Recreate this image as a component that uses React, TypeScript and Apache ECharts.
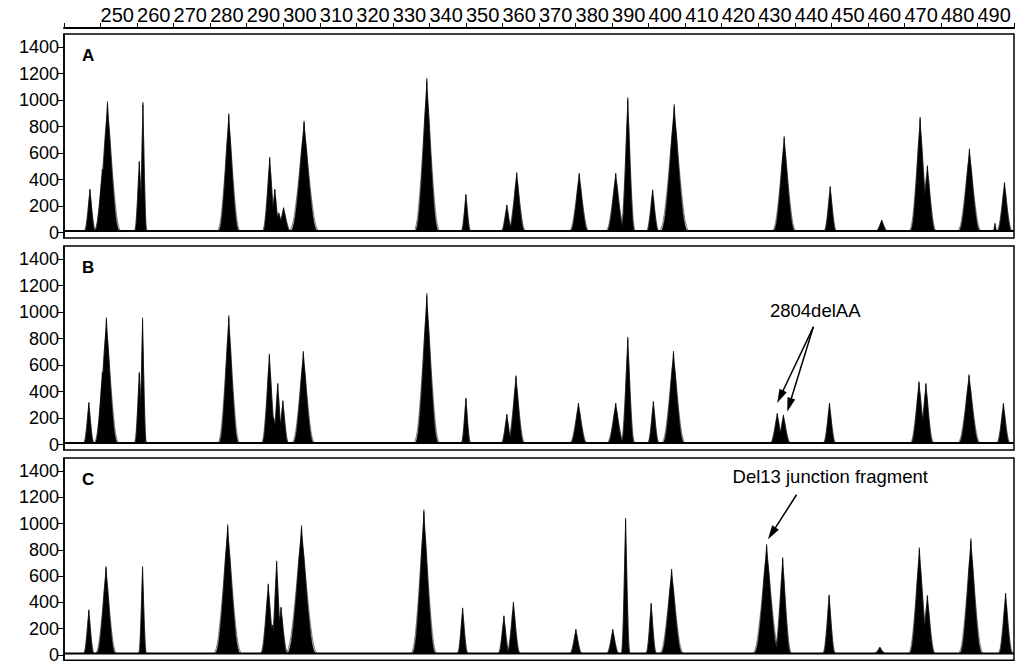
import React, { useEffect, useRef } from "react";
import * as echarts from "echarts";

// Peaks: [size (bp), height (RFU), base half-width (bp)]
const peaksA: number[][] = [
  [247.1, 330, 1.2], [250.5, 480, 1.6], [251.9, 990, 2.7], [260.6, 540, 1.0], [261.6, 985, 0.8],
  [285.1, 900, 2.3], [296.3, 570, 1.5], [297.7, 330, 1.2], [298.8, 150, 1.5], [300.1, 190, 1.5],
  [305.7, 845, 3.0], [339.3, 1165, 2.6], [350.0, 290, 1.0], [361.2, 210, 1.2], [363.9, 455, 1.8],
  [381.0, 450, 2.0], [391.0, 450, 2.0], [394.3, 1020, 1.5], [401.1, 325, 1.3], [407.0, 969, 3.0],
  [437.1, 727, 2.4], [449.7, 350, 1.3], [463.8, 95, 1.3], [474.3, 873, 2.2], [476.3, 507, 1.8],
  [487.8, 634, 2.4], [494.8, 70, 0.4], [497.4, 380, 1.6],
];
const peaksB: number[][] = [
  [246.8, 320, 1.1], [250.5, 547, 1.5], [251.6, 959, 2.5], [260.6, 547, 1.0], [261.5, 959, 0.8],
  [285.1, 976, 2.2], [296.2, 686, 1.6], [297.4, 200, 1.5], [298.5, 464, 1.2], [299.9, 333, 1.2],
  [305.5, 706, 2.3], [339.3, 1141, 2.6], [350.0, 353, 1.0], [361.2, 230, 1.2], [363.7, 522, 1.8],
  [380.8, 315, 1.8], [391.0, 315, 1.8], [394.3, 812, 1.4], [401.3, 328, 1.2], [406.8, 706, 2.4],
  [435.2, 237, 1.5], [436.9, 225, 1.5], [449.5, 315, 1.3], [474.0, 477, 1.8], [475.9, 464, 1.6],
  [487.7, 530, 2.3], [497.1, 313, 1.4],
];
const peaksC: number[][] = [
  [246.8, 345, 1.1], [251.5, 675, 2.1], [261.5, 675, 0.8], [284.8, 993, 2.8], [295.9, 542, 1.6],
  [297.0, 230, 1.5], [298.2, 717, 1.3], [299.4, 366, 1.4], [305.0, 986, 3.2], [338.5, 1106, 2.6],
  [349.1, 359, 1.1], [360.4, 299, 1.2], [363.0, 404, 1.4], [380.1, 196, 1.3], [390.2, 196, 1.3],
  [393.7, 1043, 0.9], [400.7, 396, 1.1], [406.3, 655, 2.4], [432.3, 843, 2.8], [436.7, 743, 1.8],
  [449.4, 459, 1.3], [463.3, 60, 1.2], [474.1, 818, 2.2], [476.3, 454, 1.6], [488.2, 886, 2.5],
  [497.7, 472, 1.5],
];
const panelLabels = ["A", "B", "C"];
const yTicks = [0, 200, 400, 600, 800, 1000, 1200, 1400];
const baselineLevel = 12;
const sizeRange = [240, 500];

// annotation anchors (data coords)
const delAAText = [445.6, 1013];
const delAAArrowStart = [445.1, 890];
const delAAArrowEnds = [[436.0, 362], [438.5, 300]];
const del13Text = [449.7, 1356];
const del13ArrowStart = [440.5, 1220];
const del13ArrowEnd = [433.7, 926];

// glyph profile of a peak (relative width, relative height)
const HALF_PROFILE = [
  [0, 1], [0.04, 0.93], [0.1, 0.86], [0.2, 0.76], [0.3, 0.64], [0.4, 0.52], [0.5, 0.41],
  [0.6, 0.31], [0.7, 0.22], [0.8, 0.14], [0.9, 0.08], [1.0, 0.04], [1.15, 0],
];
const PROFILE = [
  ...HALF_PROFILE.slice().reverse().map(([t, f]) => [-t, f]),
  ...HALF_PROFILE.slice(1),
];

const FONT = "'Liberation Sans', Arial, Helvetica, sans-serif";

export default function App() {
  const ref = useRef<HTMLDivElement>(null);
  useEffect(() => {
    if (!ref.current) return;
    const chart = echarts.init(ref.current, null, { renderer: "svg" });
    const tops = [34, 246, 458];
    const grids = tops.map((t) => ({
      left: 64, right: 4, top: t, height: 204,
      show: true, borderColor: "#000", borderWidth: 1.5, backgroundColor: "transparent",
    }));
    const xAxes = tops.map((_, i) => ({
      type: "value", gridIndex: i, min: sizeRange[0], max: sizeRange[1], interval: 10,
      position: "top", show: i === 0, offset: 6,
      axisLine: { show: true, onZero: false, lineStyle: { color: "#000", width: 2 } },
      axisTick: { show: true, length: 5, inside: false, lineStyle: { color: "#000", width: 1 } },
      axisLabel: {
        show: true, margin: 3, fontSize: 20, color: "#000", fontFamily: FONT, align: "left",
        formatter: (v: number) => (v >= 250 && v <= 490 ? String(v) : ""),
      },
      splitLine: { show: false },
    }));
    const yAxes = tops.map((_, i) => ({
      type: "value", gridIndex: i, min: -40, max: 1500,
      axisLine: { show: true, lineStyle: { color: "#000", width: 1.5 } },
      axisTick: { show: true, length: 6, inside: false, customValues: yTicks, lineStyle: { color: "#000" } },
      axisLabel: {
        show: true, margin: 5, fontSize: 18, color: "#000", fontFamily: FONT, customValues: yTicks,
        formatter: (v: number) => String(v),
      },
      splitLine: { show: false },
    }));
    const renderPeak = (params: any, api: any) => {
      const c = api.value(0), h = api.value(1), w = api.value(2);
      const pts = PROFILE.map(([t, f]) => api.coord([c + t * w, baselineLevel + f * (h - baselineLevel)]));
      const outline = PROFILE.map(([t, f]) => api.coord([c + t * w * 1.12, baselineLevel + f * (h - baselineLevel) * 0.98]));
      return {
        type: "group",
        children: [
          { type: "polygon", shape: { points: outline }, style: { fill: "none", stroke: "#000", lineWidth: 0.5 } },
          { type: "polygon", shape: { points: pts }, style: { fill: "#000", stroke: "#000", lineWidth: 0.6 } },
        ],
      };
    };
    const panels = [peaksA, peaksB, peaksC];
    const series: any[] = [];
    panels.forEach((pk, i) => {
      series.push({
        type: "custom", xAxisIndex: i, yAxisIndex: i, data: pk, renderItem: renderPeak,
        encode: { x: 0, y: 1 }, silent: true,
      });
      const base: any = {
        type: "line", xAxisIndex: i, yAxisIndex: i, showSymbol: false, silent: true,
        data: [[sizeRange[0], baselineLevel], [sizeRange[1], baselineLevel]],
        lineStyle: { color: "#000", width: 2 },
      };
      if (i === 1) {
        base.markLine = {
          silent: true, symbol: ["none", "triangle"], symbolSize: [8, 14],
          lineStyle: { color: "#000", width: 1.5, type: "solid" }, label: { show: false },
          data: delAAArrowEnds.map((e) => [{ coord: delAAArrowStart }, { coord: e }]),
        };
        base.markPoint = {
          silent: true, symbol: "rect", symbolSize: 1, itemStyle: { color: "rgba(0,0,0,0)" },
          label: { show: true, position: "inside", color: "#000", fontSize: 18.5, fontFamily: FONT, formatter: "2804delAA" },
          data: [{ coord: delAAText }],
        };
      }
      if (i === 2) {
        base.markLine = {
          silent: true, symbol: ["none", "triangle"], symbolSize: [8, 14],
          lineStyle: { color: "#000", width: 1.5, type: "solid" }, label: { show: false },
          data: [[{ coord: del13ArrowStart }, { coord: del13ArrowEnd }]],
        };
        base.markPoint = {
          silent: true, symbol: "rect", symbolSize: 1, itemStyle: { color: "rgba(0,0,0,0)" },
          label: { show: true, position: "inside", color: "#000", fontSize: 18.5, fontFamily: FONT, formatter: "Del13 junction fragment" },
          data: [{ coord: del13Text }],
        };
      }
      series.push(base);
    });
    const titles = panelLabels.map((t, i) => ({
      text: t, left: 82, top: tops[i] + 13, padding: 0,
      textStyle: { fontSize: 17, fontWeight: "bold", color: "#000", fontFamily: FONT },
    }));
    chart.setOption({
      animation: false,
      backgroundColor: "#fff",
      title: titles,
      grid: grids,
      xAxis: xAxes,
      yAxis: yAxes,
      series,
    });
    return () => chart.dispose();
  }, []);
  return <div ref={ref} style={{ position: "fixed", left: 0, top: 0, width: 1018, height: 664 }} />;
}
